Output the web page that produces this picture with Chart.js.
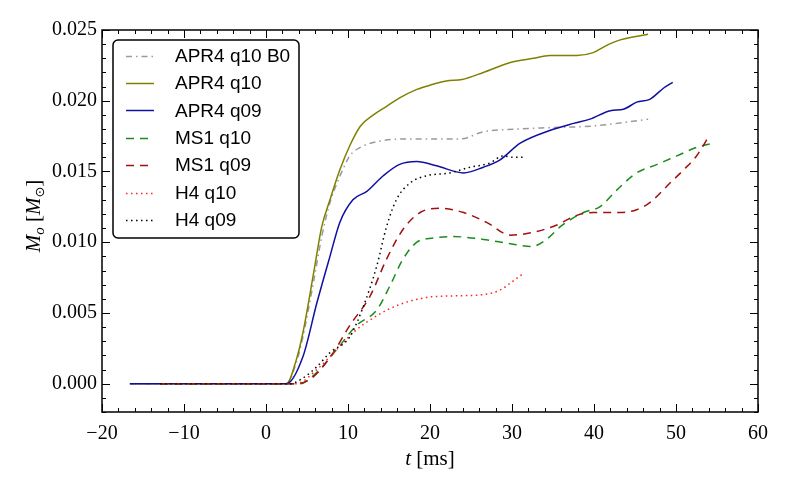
<!DOCTYPE html>
<html>
<head>
<meta charset="utf-8">
<script src="https://cdn.jsdelivr.net/npm/chart.js@4.4.0/dist/chart.umd.min.js"></script>
<style>
  body { margin: 0; background: #fff; }
  canvas { display: block; }
</style>
</head>
<body>
<canvas id="mass-chart" width="789" height="488"></canvas>
<script>
// time [ms] and ejected mass [M_sun], one pair per run
const tApr4q10B0 = [-16.6, 0, 2.5, 3.7, 4.5, 5.8, 6.8, 7.8, 8.6, 9.5, 10.2, 11.5, 13.5, 17.1, 20.8, 23.7, 26.5, 30.6, 34.6, 39.5, 42.8, 46.6];
const mApr4q10B0 = [0, 0, 0, 0.0015, 0.0033, 0.0072, 0.0104, 0.0128, 0.0141, 0.0153, 0.0161, 0.0167, 0.0171, 0.0173, 0.0173, 0.0173, 0.0178, 0.0180, 0.0181, 0.0182, 0.0184, 0.0187];

const tApr4q10 = [-16.6, 0, 2.5, 3.7, 4.5, 5.8, 6.8, 7.8, 9.0, 10.2, 11.5, 13.1, 14.7, 16.3, 18.4, 20, 22, 23.9, 26.5, 29.8, 32.6, 34.6, 37.9, 39.9, 41.5, 43.2, 46.6];
const mApr4q10 = [0, 0, 0, 0.0017, 0.0036, 0.0078, 0.0111, 0.0130, 0.0151, 0.0168, 0.0182, 0.0190, 0.0196, 0.0202, 0.0208, 0.0211, 0.0214, 0.0215, 0.0220, 0.0227, 0.0230, 0.0232, 0.0232, 0.0234, 0.0239, 0.0243, 0.0247];

const tApr4q09 = [-16.6, 0, 2.5, 4.5, 6.2, 7.8, 9.0, 10.6, 12.3, 14.3, 16.3, 18.4, 20.8, 24.1, 26.5, 28.5, 31, 34.6, 37.5, 39.5, 42, 43.6, 45.2, 46.8, 48.5, 49.6];
const mApr4q09 = [0, 0, 0, 0.0019, 0.0057, 0.0090, 0.0114, 0.0130, 0.0136, 0.0147, 0.0155, 0.0157, 0.0154, 0.0149, 0.0153, 0.0158, 0.0170, 0.0179, 0.0184, 0.0187, 0.0193, 0.0194, 0.0199, 0.0201, 0.0209, 0.0213];

const tMs1q10 = [-12.9, 0, 4.1, 6.2, 8.6, 11.0, 13.5, 15.1, 16.7, 18.4, 20.4, 22.8, 26.5, 29.8, 32.4, 34.2, 35.9, 38.7, 40.7, 42.8, 45.2, 47.7, 50.1, 52.5, 54.5];
const mMs1q10 = [0, 0, 0, 0.0008, 0.0024, 0.0041, 0.0052, 0.0069, 0.0088, 0.0100, 0.0103, 0.0104, 0.0102, 0.0099, 0.0097, 0.0102, 0.0111, 0.0121, 0.0125, 0.0137, 0.0149, 0.0155, 0.0161, 0.0167, 0.0170];

const tMs1q09 = [-12.9, 0, 3.7, 5.8, 8.2, 10.2, 12.7, 14.7, 16.7, 18.8, 21.2, 24.1, 26.9, 29.8, 32.6, 35.4, 37.9, 39.9, 43.2, 45.2, 46.8, 49.3, 50.9, 52.5, 53.3, 53.8];
const mMs1q09 = [0, 0, 0, 0.0005, 0.0022, 0.0041, 0.0062, 0.0088, 0.0109, 0.0121, 0.0124, 0.0121, 0.0114, 0.0105, 0.0107, 0.0112, 0.0119, 0.0121, 0.0121, 0.0123, 0.0128, 0.0142, 0.0151, 0.0161, 0.0168, 0.0173];

const tH4q10 = [-12.9, 0, 3.7, 6.2, 8.6, 10.6, 13.5, 16.3, 19.6, 22.4, 26.5, 28.5, 30, 31.4];
const mH4q10 = [0, 0, 0, 0.0010, 0.0024, 0.0036, 0.0048, 0.0056, 0.0061, 0.0062, 0.0063, 0.0066, 0.0072, 0.0078];

const tH4q09 = [-12.9, 0, 3.0, 4.5, 6.2, 7.8, 10.2, 11.9, 13.5, 14.7, 15.9, 17.6, 19.6, 22.4, 24.9, 27.3, 28.9, 30.2, 31.7];
const mH4q09 = [0, 0, 0, 0.0004, 0.0012, 0.0022, 0.0033, 0.0055, 0.0083, 0.0111, 0.0130, 0.0142, 0.0147, 0.0149, 0.0153, 0.0156, 0.0161, 0.0160, 0.0160];

const runLabels = ["APR4 q10 B0", "APR4 q10", "APR4 q09", "MS1 q10", "MS1 q09", "H4 q10", "H4 q09"];
const xTickValues = [-20, -10, 0, 10, 20, 30, 40, 50, 60];
const yTickValues = [0, 0.005, 0.010, 0.015, 0.020, 0.025];

const serif = "'Liberation Serif', 'DejaVu Serif', serif";
const sans = "'Liberation Sans', Arial, sans-serif";

function pairs(ts, ms) {
  return ts.map((t, i) => ({ x: t, y: ms[i] }));
}

const styles = [
  { color: "#9a9a9a", dash: [6, 4, 1.5, 4] },
  { color: "#808000", dash: [] },
  { color: "#1010a0", dash: [] },
  { color: "#1c8c1c", dash: [8, 6] },
  { color: "#a01010", dash: [8, 6] },
  { color: "#ff2020", dash: [1.5, 3.5] },
  { color: "#000000", dash: [1.5, 3.5] },
];
const runData = [
  pairs(tApr4q10B0, mApr4q10B0),
  pairs(tApr4q10, mApr4q10),
  pairs(tApr4q09, mApr4q09),
  pairs(tMs1q10, mMs1q10),
  pairs(tMs1q09, mMs1q09),
  pairs(tH4q10, mH4q10),
  pairs(tH4q09, mH4q09),
];

const datasets = runLabels.map((label, i) => ({
  label: label,
  data: runData[i],
  borderColor: styles[i].color,
  borderDash: styles[i].dash,
  borderWidth: 1.5,
  pointRadius: 0,
  fill: false,
  cubicInterpolationMode: "monotone",
  order: runLabels.length - i,
}));

// matplotlib-like frame with inward ticks on all four sides
const frameTicks = {
  id: "frameTicks",
  afterDatasetsDraw(chart) {
    const { ctx, chartArea: a, scales: { x, y } } = chart;
    ctx.save();
    ctx.strokeStyle = "#000";
    ctx.lineWidth = 1;
    ctx.beginPath();
    for (let k = -10; k <= 30; k++) {
      const px = Math.round(x.getPixelForValue(k * 2)) + 0.5;
      const len = k % 5 === 0 ? 8 : 4;
      ctx.moveTo(px, a.bottom); ctx.lineTo(px, a.bottom - len);
      ctx.moveTo(px, a.top); ctx.lineTo(px, a.top + len);
    }
    for (let k = -2; k <= 25; k++) {
      const py = Math.round(y.getPixelForValue(k * 0.001)) + 0.5;
      const len = k % 5 === 0 ? 8 : 4;
      ctx.moveTo(a.left, py); ctx.lineTo(a.left + len, py);
      ctx.moveTo(a.right, py); ctx.lineTo(a.right - len, py);
    }
    ctx.stroke();
    ctx.lineWidth = 1.5;
    ctx.strokeRect(a.left, a.top, a.right - a.left, a.bottom - a.top);
    ctx.restore();
  },
  afterDraw(chart) {
    const { ctx, chartArea: a } = chart;
    ctx.save();
    ctx.fillStyle = "#000";
    ctx.textBaseline = "alphabetic";

    // x title: t [ms]
    const cx = (a.left + a.right) / 2;
    ctx.font = "italic 21px " + serif;
    const wT = ctx.measureText("t ").width;
    ctx.font = "21px " + serif;
    const wR = ctx.measureText("[ms]").width;
    let sx = cx - (wT + wR) / 2;
    ctx.font = "italic 21px " + serif;
    ctx.fillText("t ", sx, 465);
    ctx.font = "21px " + serif;
    ctx.fillText("[ms]", sx + wT, 465);

    // y title: M_o [M_sun], rotated
    ctx.translate(40, 216);
    ctx.rotate(-Math.PI / 2);
    const parts = [
      { s: "M", f: "italic 21px " + serif, dy: 0 },
      { s: "o", f: "italic 15px " + serif, dy: 4 },
      { s: " [", f: "21px " + serif, dy: 0 },
      { s: "M", f: "italic 21px " + serif, dy: 0 },
      { s: "\u2299", f: "13px 'DejaVu Sans', sans-serif", dy: 4 },
      { s: "]", f: "21px " + serif, dy: 0 },
    ];
    let total = 0;
    parts.forEach((p) => { ctx.font = p.f; p.w = ctx.measureText(p.s).width; total += p.w; });
    let px = -total / 2;
    parts.forEach((p) => {
      ctx.font = p.f;
      ctx.fillText(p.s, px, p.dy);
      px += p.w;
    });
    ctx.restore();

    // legend box in the upper left of the axes
    ctx.save();
    const bx = 113, by = 40, bw = 186, bh = 198;
    ctx.beginPath();
    ctx.roundRect(bx, by, bw, bh, 5);
    ctx.fillStyle = "#fff";
    ctx.fill();
    ctx.lineWidth = 1.5;
    ctx.strokeStyle = "#000";
    ctx.stroke();
    ctx.font = "19px " + sans;
    ctx.textBaseline = "middle";
    chart.data.datasets.forEach((ds, i) => {
      const ly = 55.5 + i * 27.4;
      ctx.beginPath();
      ctx.setLineDash(ds.borderDash);
      ctx.strokeStyle = ds.borderColor;
      ctx.lineWidth = 1.5;
      ctx.moveTo(126, Math.round(ly) + 0.5);
      ctx.lineTo(154, Math.round(ly) + 0.5);
      ctx.stroke();
      ctx.setLineDash([]);
      ctx.fillStyle = "#000";
      ctx.fillText(ds.label, 175, ly + 1);
    });
    ctx.restore();
  },
};

new Chart(document.getElementById("mass-chart"), {
  type: "line",
  data: { datasets: datasets },
  options: {
    responsive: false,
    animation: false,
    layout: { padding: { left: 0, top: 30, right: 31, bottom: 0 } },
    plugins: { legend: { display: false }, tooltip: { enabled: false } },
    scales: {
      x: {
        type: "linear",
        min: -20,
        max: 60,
        afterBuildTicks: (scale) => { scale.ticks = xTickValues.map((v) => ({ value: v })); },
        afterFit: (scale) => { scale.height = 76; },
        grid: { display: false, drawTicks: false },
        border: { display: false },
        ticks: {
          padding: 10,
          color: "#000",
          font: { family: serif, size: 20 },
          maxRotation: 0,
          callback: (v) => (v < 0 ? "\u2212" + Math.abs(v) : String(v)),
        },
      },
      y: {
        type: "linear",
        min: -0.002,
        max: 0.025,
        afterBuildTicks: (scale) => { scale.ticks = yTickValues.map((v) => ({ value: v })); },
        afterFit: (scale) => { scale.width = 102; },
        grid: { display: false, drawTicks: false },
        border: { display: false },
        ticks: {
          padding: 5,
          color: "#000",
          font: { family: serif, size: 20 },
          callback: (v) => v.toFixed(3),
        },
      },
    },
  },
  plugins: [frameTicks],
});
</script>
</body>
</html>
